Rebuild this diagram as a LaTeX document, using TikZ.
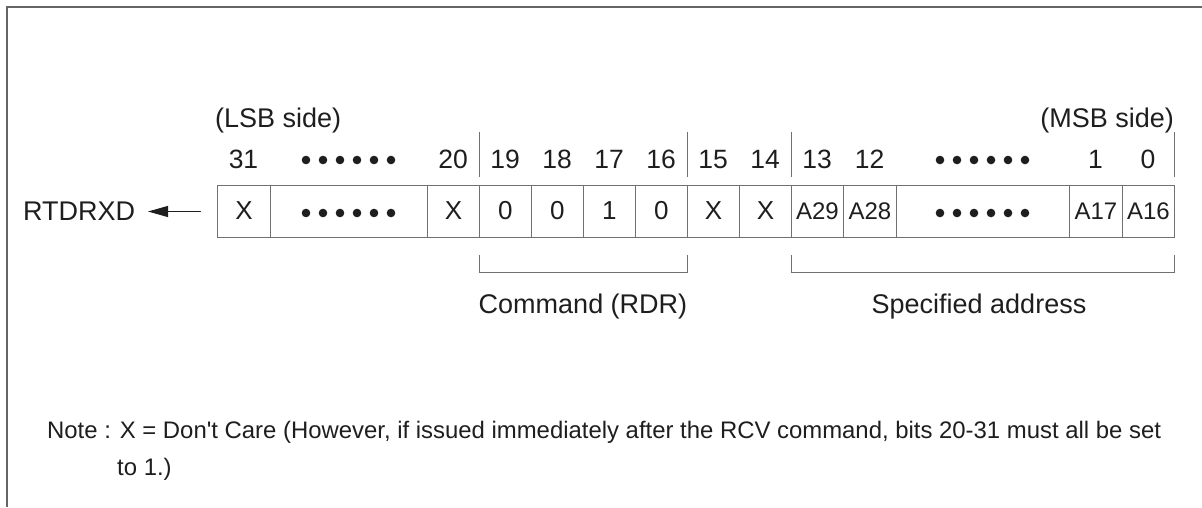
\documentclass[tikz,border=0pt]{standalone}
\usepackage{fontspec}
\setmainfont{Liberation Sans}
\newfontfamily\notefont{Liberation Sans}[Ligatures=TeXOff]
\usetikzlibrary{arrows.meta}
\definecolor{ink}{HTML}{1E1E1E}
\definecolor{rule}{HTML}{707070}
\tikzset{
  cell/.style={draw=rule, line width=0.9pt, minimum height=52pt, inner sep=0pt, anchor=west, text=ink, font=\fontsize{26}{30}\selectfont},
  acell/.style={cell, font=\fontsize{24}{28}\selectfont},
  bitlbl/.style={anchor=base, inner sep=0pt, text=ink, font=\fontsize{26.5}{30}\selectfont},
  lbl/.style={inner sep=0pt, text=ink, font=\fontsize{27}{32}\selectfont},
  tick/.style={draw=rule, line width=0.9pt},
  frameline/.style={draw=rule!90!black, line width=1.1pt},
  bdot/.style={fill=ink, draw=none},
  note/.style={anchor=base west, inner sep=0pt, text=ink, font=\notefont\fontsize{23.9}{28}\selectfont}
}
\begin{document}
\begin{tikzpicture}[x=1pt,y=-1pt]
\useasboundingbox (0,0) rectangle (1202,507);
% frame
\draw[frameline] (7,507) -- (7,7) -- (1202,7);

% cells
\node[cell, minimum width=53pt] (c31) at (217,211) {X};
\node[cell, minimum width=157pt] (cd1) at (270,211) {};
\node[cell, minimum width=52pt] (c20) at (427,211) {X};
\node[cell, minimum width=52pt] (c19) at (479,211) {0};
\node[cell, minimum width=52pt] (c18) at (531,211) {0};
\node[cell, minimum width=52pt] (c17) at (583,211) {1};
\node[cell, minimum width=52pt] (c16) at (635,211) {0};
\node[cell, minimum width=52pt] (c15) at (687,211) {X};
\node[cell, minimum width=52pt] (c14) at (739,211) {X};
\node[acell, minimum width=52pt] (c13) at (791,211) {A29};
\node[acell, minimum width=53pt] (c12) at (843,211) {A28};
\node[cell, minimum width=173pt] (cd2) at (896,211) {};
\node[acell, minimum width=53pt] (c1) at (1069,211) {A17};
\node[acell, minimum width=52pt] (c0) at (1122,211) {A16};

% dots in cells and label row
\foreach \cx in {348.5,982.5}{
  \foreach \k in {-2.5,-1.5,-0.5,0.5,1.5,2.5}{
    \fill[bdot] (\cx+\k*17,213) circle (4.3pt);
    \fill[bdot] (\cx+\k*17,160) circle (4.3pt);
  }
}

% bit numbers
\node[bitlbl] (b31) at (243.5,168) {31};
\node[bitlbl] (b20) at (453,168) {20};
\node[bitlbl] (b19) at (505,168) {19};
\node[bitlbl] (b18) at (557,168) {18};
\node[bitlbl] (b17) at (609,168) {17};
\node[bitlbl] (b16) at (661,168) {16};
\node[bitlbl] (b15) at (713,168) {15};
\node[bitlbl] (b14) at (765,168) {14};
\node[bitlbl] (b13) at (817,168) {13};
\node[bitlbl] (b12) at (869.5,168) {12};
\node[bitlbl] (b1) at (1095.5,168) {1};
\node[bitlbl] (b0) at (1148,168) {0};

% group ticks above
\foreach \tx in {479,687,791,1174}{
  \draw[tick] (\tx,132) -- (\tx,177);
}

% side labels
\node[lbl, anchor=base west] (lsb) at (215,127.5) {(LSB side)};
\node[lbl, anchor=base east] (msb) at (1174,127.5) {(MSB side)};

% output arrow
\node[lbl, anchor=west] (rtd) at (23,211) {RTDRXD};
\coordinate (astart) at (201,211.5);
\coordinate (aend) at (148,211.5);
\draw[draw=ink, line width=1pt, -{Triangle[length=20pt,width=11pt]}] (astart) -- (aend);
% brackets
\draw[tick] (c19.south west) ++(0,18) -- ++(0,17) -| (c16.south east |- 0,255);
\draw[tick] (c13.south west) ++(0,18) -- ++(0,17) -| (c0.south east |- 0,255);

\node[lbl] (cmd) at (583,307) {Command (RDR)};
\node[lbl] (addr) at (979,307) {Specified address};

% note
\node[note] (n1) at (47,438) {Note : X = Don't Care (However, if issued immediately after the RCV command, bits 20-31 must all be set};
\node[note] (n2) at (117,475) {to 1.)};
\end{tikzpicture}
\end{document}
